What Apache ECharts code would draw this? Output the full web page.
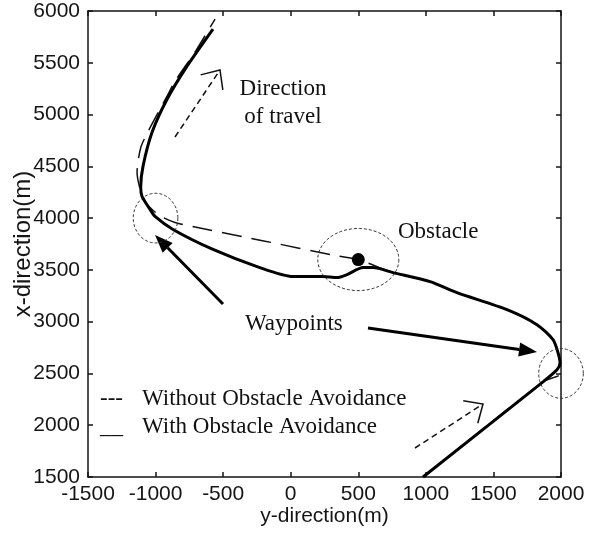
<!DOCTYPE html>
<html><head><meta charset="utf-8">
<script src="https://cdn.jsdelivr.net/npm/echarts@6/dist/echarts.min.js"></script>
<style>html,body{margin:0;padding:0;background:#fff}#c{width:594px;height:539px}</style>
</head><body><div id="c"></div>
<script>
// ---- data (metres) ----
const xTicks = [-1500, -1000, -500, 0, 500, 1000, 1500, 2000];
const yTicks = [1500, 2000, 2500, 3000, 3500, 4000, 4500, 5000, 5500, 6000];

// path with obstacle avoidance [y-direction, x-direction]
const withAvoidance = [
  [979,1500],[1867,2419],[1970,2535],[1993,2603],[1978,2700],[1941,2826],[1822,2971],
  [1600,3116],[1230,3280],[1031,3387],[757,3474],[609,3523],[535,3523],[417,3455],
  [342,3426],[239,3436],[17,3436],[-249,3532],[-575,3697],[-871,3890],[-1004,4016],
  [-1041,4084],[-1100,4209],[-1110,4300],[-1093,4500],[-1026,4829],[-915,5148],
  [-767,5468],[-575,5826]
];
// path without obstacle avoidance
const withoutAvoidance = [
  [980,1500],[1867,2419],[2000,2500],[1995,2600],[1978,2700],[1941,2826],[1822,2971],
  [1600,3116],[1230,3280],[1031,3387],[757,3474],[500,3600],[305,3645],[-200,3780],
  [-600,3885],[-856,3958],[-970,4025],[-1060,4130],[-1110,4260],[-1137,4442],
  [-1110,4680],[-1050,4850],[-915,5177],[-856,5322],[-700,5620],[-560,5922]
];
// circles: centre y-dir, centre x-dir, radius along y-dir, radius along x-dir
const waypointCircles = [[-1000,4000,165,240],[2000,2500,165,240]];
const obstacleCircles = [[500,3600,300,300]];
const obstaclePoint = [[500,3600]];

const axisName = { x: 'y-direction(m)', y: 'x-direction(m)' };
const notes = {
  dir1: 'Direction', dir2: 'of travel', obstacle: 'Obstacle', waypoints: 'Waypoints',
  legDash: '---', legWithout: 'Without Obstacle Avoidance',
  legSolid: '__', legWith: 'With Obstacle Avoidance'
};

// ---- font check ----
function hasFont(name){
  const c = document.createElement('canvas').getContext('2d');
  c.font = '40px monospace'; const a = c.measureText('2000 abcxyz').width;
  c.font = "40px '" + name + "', monospace"; const b = c.measureText('2000 abcxyz').width;
  return a !== b;
}
const narrow = hasFont('Liberation Sans Narrow');
const tickFont = narrow ? { fontFamily: 'Liberation Sans Narrow', fontSize: 25 }
                        : { fontFamily: 'Liberation Sans', fontSize: 21 };
const ink = '#151515';
const serif = "23px 'Liberation Serif', 'Times New Roman', serif";

const chart = echarts.init(document.getElementById('c'), null, { renderer: 'canvas' });

const axisCommon = {
  type: 'value',
  splitLine: { show: false },
  axisLine: { show: true, onZero: false, lineStyle: { color: ink, width: 1.5 } },
  axisTick: { show: true, inside: true, length: 5, lineStyle: { color: ink, width: 1.5 } }
};
const plain = function (v) { return String(v); };

function ellipseItem(params, api) {
  const c = api.coord([api.value(0), api.value(1)]);
  const s = api.size([api.value(2), api.value(3)]);
  const pts = [];
  for (let i = 0; i <= 90; i++) {
    const t = i / 90 * Math.PI * 2;
    pts.push([c[0] + s[0] * Math.cos(t), c[1] + s[1] * Math.sin(t)]);
  }
  return { type: 'polyline', shape: { points: pts },
    style: { stroke: '#333', lineWidth: 1, lineDash: [3, 2], fill: null } };
}

function arrowSolid(tail, tip, len, half) {
  const dx = tip[0] - tail[0], dy = tip[1] - tail[1];
  const L = Math.hypot(dx, dy), ux = dx / L, uy = dy / L;
  const bx = tip[0] - ux * len, by = tip[1] - uy * len;
  return [
    { type: 'line', shape: { x1: tail[0], y1: tail[1], x2: bx, y2: by },
      style: { stroke: '#000', lineWidth: 3 } },
    { type: 'polygon', shape: { points: [tip, [bx - uy * half, by + ux * half], [bx + uy * half, by - ux * half]] },
      style: { fill: '#000' } }
  ];
}
function arrowOpen(tail, tip, len, angDeg) {
  const dx = tail[0] - tip[0], dy = tail[1] - tip[1];
  const a = Math.atan2(dy, dx), r = angDeg * Math.PI / 180;
  const p1 = [tip[0] + len * Math.cos(a + r), tip[1] + len * Math.sin(a + r)];
  const p2 = [tip[0] + len * Math.cos(a - r), tip[1] + len * Math.sin(a - r)];
  return [
    { type: 'line', shape: { x1: tail[0], y1: tail[1], x2: tip[0], y2: tip[1] },
      style: { stroke: '#111', lineWidth: 1.5, lineDash: [6, 4] } },
    { type: 'polyline', shape: { points: [p1, tip, p2] },
      style: { stroke: '#111', lineWidth: 1.5, fill: null } }
  ];
}
function txt(t, x, y, align) {
  return { type: 'text', x: x, y: y,
    style: { text: t, font: serif, fill: '#111', align: align || 'left', verticalAlign: 'middle' } };
}

const graphics = [].concat(
  arrowSolid([223, 304], [155, 235], 18, 7),
  arrowSolid([368, 328], [537, 352], 18, 7),
  arrowOpen([175, 137], [220, 70], 20, 42),
  arrowOpen([415, 448], [483, 404], 20, 42),
  [
    txt(notes.dir1, 283, 89, 'center'),
    txt(notes.dir2, 283, 117, 'center'),
    txt(notes.obstacle, 398, 232),
    txt(notes.waypoints, 245, 324),
    txt(notes.legDash, 100, 399),
    txt(notes.legWithout, 142, 399),
    txt(notes.legSolid, 100, 427),
    txt(notes.legWith, 142, 427)
  ]
);

const option = {
  animation: false,
  backgroundColor: '#fff',
  grid: { left: 88, top: 11, right: 33, bottom: 62, containLabel: false, outerBoundsMode: 'none' },
  xAxis: [
    Object.assign({}, axisCommon, {
      position: 'bottom', min: xTicks[0], max: xTicks[xTicks.length - 1], interval: xTicks[1] - xTicks[0],
      axisLabel: { color: ink, margin: 7, showMinLabel: true, showMaxLabel: true, formatter: plain,
        fontFamily: tickFont.fontFamily, fontSize: tickFont.fontSize },
      name: axisName.x, nameLocation: 'middle', nameGap: 29, nameMoveOverlap: false,
      nameTextStyle: { color: ink, fontFamily: tickFont.fontFamily, fontSize: tickFont.fontSize }
    }),
    Object.assign({}, axisCommon, {
      position: 'top', min: xTicks[0], max: xTicks[xTicks.length - 1], interval: xTicks[1] - xTicks[0],
      axisLabel: { show: false }
    })
  ],
  yAxis: [
    Object.assign({}, axisCommon, {
      position: 'left', min: yTicks[0], max: yTicks[yTicks.length - 1], interval: yTicks[1] - yTicks[0],
      axisLabel: { color: ink, margin: 8, showMinLabel: true, showMaxLabel: true, formatter: plain,
        fontFamily: tickFont.fontFamily, fontSize: tickFont.fontSize },
      name: axisName.y, nameLocation: 'middle', nameGap: 53, nameMoveOverlap: false,
      nameTextStyle: { color: ink, fontFamily: 'Liberation Sans', fontSize: 24 }
    }),
    Object.assign({}, axisCommon, {
      position: 'right', min: yTicks[0], max: yTicks[yTicks.length - 1], interval: yTicks[1] - yTicks[0],
      axisLabel: { show: false }
    })
  ],
  series: [
    { type: 'line', name: 'Without Obstacle Avoidance', data: withoutAvoidance, showSymbol: false, smooth: 0.25,
      lineStyle: { color: '#111', width: 1.5, type: [20, 10] }, z: 2 },
    { type: 'line', name: 'With Obstacle Avoidance', data: withAvoidance, showSymbol: false, smooth: 0.25,
      lineStyle: { color: '#000', width: 3 }, z: 3 },
    { type: 'custom', data: waypointCircles.concat(obstacleCircles), renderItem: ellipseItem, z: 4 },
    { type: 'scatter', data: obstaclePoint, symbol: 'circle', symbolSize: 13,
      itemStyle: { color: '#000', opacity: 1 }, z: 5 }
  ],
  graphic: graphics
};
chart.setOption(option);
</script></body></html>
